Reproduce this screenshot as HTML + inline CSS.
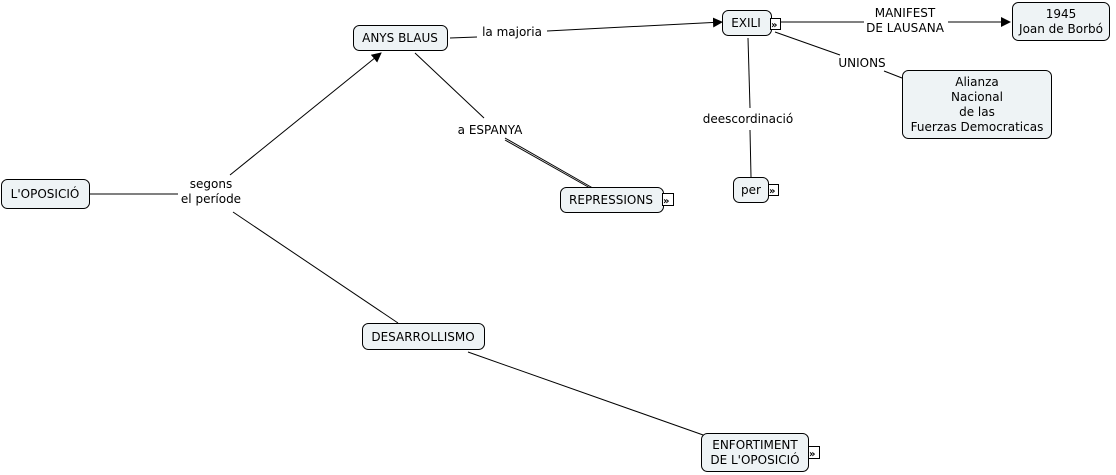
<!DOCTYPE html>
<html><head><meta charset="utf-8"><style>
html,body{margin:0;padding:0;background:#fff;}
svg{display:block;font-family:"DejaVu Sans","Liberation Sans",sans-serif;font-size:12px;}
</style></head><body>
<svg width="1116" height="475" viewBox="0 0 1116 475" xmlns="http://www.w3.org/2000/svg">
<defs><marker id="a" markerWidth="10" markerHeight="10" refX="9" refY="5" orient="auto" markerUnits="userSpaceOnUse"><path d="M0,0 L10,5 L0,10 z" fill="#000"/></marker></defs>
<g stroke="#000" stroke-width="1" fill="none">
<line x1="90" y1="194" x2="178" y2="194"/>
<line x1="230" y1="175" x2="381" y2="53" marker-end="url(#a)"/>
<line x1="233" y1="212" x2="398" y2="323"/>
<line x1="468" y1="352" x2="706" y2="436"/>
<line x1="450" y1="38" x2="477" y2="37"/>
<line x1="547" y1="31" x2="722" y2="22" marker-end="url(#a)"/>
<line x1="415" y1="53" x2="484" y2="118"/>
<line x1="505" y1="138" x2="598" y2="191"/>
<line x1="505" y1="140" x2="590" y2="188"/>
<line x1="781" y1="22" x2="864" y2="22"/>
<line x1="948" y1="22" x2="1010" y2="22" marker-end="url(#a)"/>
<line x1="775" y1="32" x2="840" y2="55"/>
<line x1="884" y1="71" x2="902" y2="78"/>
<line x1="748" y1="38" x2="750" y2="108"/>
<line x1="750" y1="130" x2="751" y2="177"/>
</g>
<g fill="#eef3f5" stroke="#000" stroke-width="1">
<rect x="1.5" y="179.5" width="88" height="29" rx="6"/>
<rect x="353.5" y="25.5" width="94" height="25" rx="6"/>
<rect x="722.5" y="10.5" width="49" height="25" rx="6"/>
<rect x="1012.5" y="2.5" width="97" height="38" rx="6"/>
<rect x="902.5" y="70.5" width="149" height="68" rx="6"/>
<rect x="733.5" y="177.5" width="35" height="25" rx="6"/>
<rect x="560.5" y="187.5" width="103" height="25" rx="6"/>
<rect x="362.5" y="323.5" width="122" height="26" rx="6"/>
<rect x="701.5" y="433.5" width="107" height="38" rx="6"/>
</g>
<g fill="#fff" stroke="#000" stroke-width="1">
<rect x="770.5" y="18.5" width="10" height="11"/>
<rect x="768.5" y="184.5" width="10" height="11"/>
<rect x="662.5" y="193.5" width="11" height="12"/>
<rect x="808.5" y="446.5" width="11" height="12"/>
</g>
<g font-size="10" font-weight="bold" fill="#000">
<text x="771" y="28">»</text><text x="769" y="194">»</text><text x="663" y="204">»</text><text x="809" y="457">»</text>
</g>
<g text-anchor="middle" fill="#000">
<text x="45" y="198">L'OPOSICIÓ</text>
<text x="400" y="42">ANYS BLAUS</text>
<text x="746" y="27">EXILI</text>
<text x="1061" y="18">1945</text><text x="1061" y="33">Joan de Borbó</text>
<text x="977" y="86">Alianza</text><text x="977" y="101">Nacional</text><text x="977" y="116">de las</text><text x="977" y="131">Fuerzas Democraticas</text>
<text x="751" y="194">per</text>
<text x="611" y="204">REPRESSIONS</text>
<text x="423" y="341">DESARROLLISMO</text>
<text x="755" y="449">ENFORTIMENT</text><text x="755" y="464">DE L'OPOSICIÓ</text>
<text x="211" y="188">segons</text><text x="211" y="203">el període</text>
<text x="512" y="36">la majoria</text>
<text x="490" y="134">a ESPANYA</text>
<text x="905" y="17">MANIFEST</text><text x="905" y="32">DE LAUSANA</text>
<text x="862" y="67">UNIONS</text>
<text x="748" y="123">deescordinació</text>
</g>
</svg>
</body></html>
